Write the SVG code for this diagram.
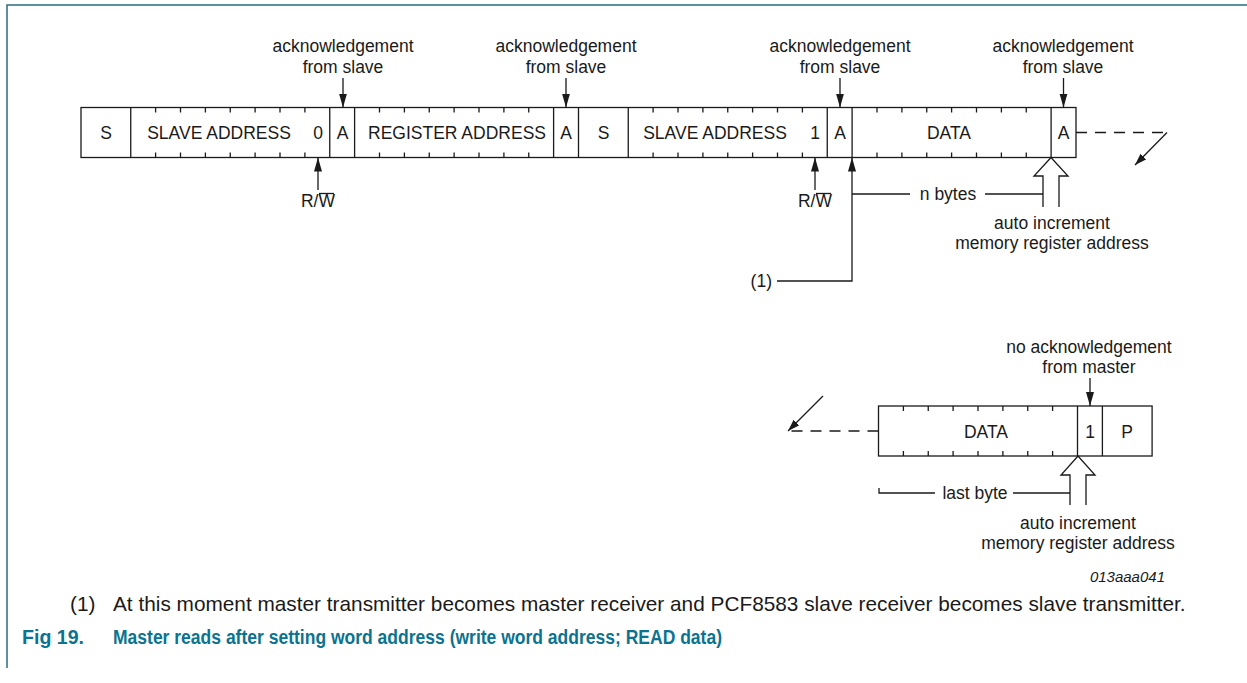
<svg xmlns="http://www.w3.org/2000/svg" width="1247" height="683" viewBox="0 0 1247 683">
<style>
.box{fill:none;stroke:#1a1a1a;stroke-width:1.3}
.ln{fill:none;stroke:#1a1a1a;stroke-width:1.3}
.dash{stroke-dasharray:11 8}
.hollow{fill:#fff;stroke:#1a1a1a;stroke-width:1.3}
text{font-family:"Liberation Sans",Arial,Helvetica,sans-serif;fill:#1a1a1a}
.lbl{font-size:17.5px}
.mid{text-anchor:middle}
.cap{font-size:20.8px}
.fig{font-size:19.5px;font-weight:bold;fill:#0b7390}
.code{font-size:15px;font-style:italic;text-anchor:end}
.frame{stroke:#2a6e80;stroke-width:1.5;fill:none}
</style>
<defs>
<marker id="ah" markerUnits="userSpaceOnUse" markerWidth="15" markerHeight="10" refX="14" refY="4" orient="auto">
<path d="M0,0 L14,4 L0,8 z" fill="#1a1a1a"/>
</marker>
<marker id="ah2" markerUnits="userSpaceOnUse" markerWidth="13" markerHeight="10" refX="12" refY="4" orient="auto">
<path d="M0,0 L12,4 L0,8 z" fill="#1a1a1a"/>
</marker>
</defs>

<g id="frame">
<path class="frame" d="M7,668 V5 H1247"/>
</g>

<g id="top-frame">
<rect class="box" x="81" y="107.5" width="995" height="50"/>
<path class="ln" d="M130.75,107.5V157.5 M329.75,107.5V157.5 M354.6,107.5V157.5 M553.6,107.5V157.5 M578.5,107.5V157.5 M628.25,107.5V157.5 M827.25,107.5V157.5 M852.1,107.5V157.5 M1051.1,107.5V157.5"/>
<path class="ln" d="M155.6,107.5v5 M180.5,107.5v5 M205.4,107.5v5 M230.25,107.5v5 M255.1,107.5v5 M280,107.5v5 M304.9,107.5v5
M155.6,157.5v-5 M180.5,157.5v-5 M205.4,157.5v-5 M230.25,157.5v-5 M255.1,157.5v-5 M280,157.5v-5 M304.9,157.5v-5
M379.5,107.5v5 M404.4,107.5v5 M429.25,107.5v5 M454.1,107.5v5 M479,107.5v5 M503.9,107.5v5 M528.75,107.5v5
M379.5,157.5v-5 M404.4,157.5v-5 M429.25,157.5v-5 M454.1,157.5v-5 M479,157.5v-5 M503.9,157.5v-5 M528.75,157.5v-5
M653.1,107.5v5 M678,107.5v5 M702.9,107.5v5 M727.75,107.5v5 M752.6,107.5v5 M777.5,107.5v5 M802.4,107.5v5
M653.1,157.5v-5 M678,157.5v-5 M702.9,157.5v-5 M727.75,157.5v-5 M752.6,157.5v-5 M777.5,157.5v-5 M802.4,157.5v-5
M877,107.5v5 M901.9,107.5v5 M926.75,107.5v5 M951.6,107.5v5 M976.5,107.5v5 M1001.4,107.5v5 M1026.25,107.5v5
M877,157.5v-5 M901.9,157.5v-5 M926.75,157.5v-5 M951.6,157.5v-5 M976.5,157.5v-5 M1001.4,157.5v-5 M1026.25,157.5v-5"/>
</g>

<g id="cell-s1"><text class="lbl mid" x="106" y="139">S</text></g>
<g id="cell-slave-address-1"><text class="lbl mid" x="219" y="139">SLAVE ADDRESS</text><text class="lbl mid" x="318" y="139">0</text></g>
<g id="cell-a1"><text class="lbl mid" x="342.5" y="139">A</text></g>
<g id="cell-register-address"><text class="lbl mid" x="457" y="139">REGISTER ADDRESS</text></g>
<g id="cell-a2"><text class="lbl mid" x="566" y="139">A</text></g>
<g id="cell-s2"><text class="lbl mid" x="603.5" y="139">S</text></g>
<g id="cell-slave-address-2"><text class="lbl mid" x="715" y="139">SLAVE ADDRESS</text><text class="lbl mid" x="815" y="139">1</text></g>
<g id="cell-a3"><text class="lbl mid" x="840" y="139">A</text></g>
<g id="cell-data-1"><text class="lbl mid" x="949" y="139">DATA</text></g>
<g id="cell-a4"><text class="lbl mid" x="1063.5" y="139">A</text></g>

<g id="ack-labels">
<text class="lbl mid" x="343" y="52">acknowledgement</text><text class="lbl mid" x="343" y="73">from slave</text>
<text class="lbl mid" x="566" y="52">acknowledgement</text><text class="lbl mid" x="566" y="73">from slave</text>
<text class="lbl mid" x="840" y="52">acknowledgement</text><text class="lbl mid" x="840" y="73">from slave</text>
<text class="lbl mid" x="1063" y="52">acknowledgement</text><text class="lbl mid" x="1063" y="73">from slave</text>
</g>

<g id="rw-labels">
<text class="lbl mid" x="318" y="207">R/W</text>
<line class="ln" x1="319" y1="193.5" x2="334" y2="193.5"/>
<text class="lbl mid" x="815" y="207">R/W</text>
<line class="ln" x1="816" y1="193.5" x2="831" y2="193.5"/>
</g>

<g id="nbytes-label"><text class="lbl mid" x="948" y="200">n bytes</text></g>
<g id="note1-label"><text class="lbl" x="772" y="287" text-anchor="end">(1)</text></g>
<g id="auto-inc-1">
<polyline class="hollow" points="1043,207 1043,176 1034,176 1051,157.5 1068,176 1059,176 1059,207"/>
<text class="lbl mid" x="1052" y="229">auto increment</text>
<text class="lbl mid" x="1052" y="249">memory register address</text>
</g>

<g id="bottom-frame">
<rect class="box" x="878.5" y="406" width="273.6" height="50"/>
<path class="ln" d="M1077.5,406V456 M1102.4,406V456"/>
<path class="ln" d="M903.4,406v5 M928.25,406v5 M953.1,406v5 M978,406v5 M1002.9,406v5 M1027.75,406v5 M1052.6,406v5
M903.4,456v-5 M928.25,456v-5 M953.1,456v-5 M978,456v-5 M1002.9,456v-5 M1027.75,456v-5 M1052.6,456v-5"/>
</g>
<g id="cell-data-2"><text class="lbl mid" x="986" y="437.5">DATA</text></g>
<g id="cell-1"><text class="lbl mid" x="1090" y="437.5">1</text></g>
<g id="cell-p"><text class="lbl mid" x="1127" y="437.5">P</text></g>
<g id="noack-label">
<text class="lbl mid" x="1089" y="352.5">no acknowledgement</text>
<text class="lbl mid" x="1089" y="372.5">from master</text>
</g>
<g id="lastbyte-label"><text class="lbl mid" x="975" y="499">last byte</text></g>
<g id="auto-inc-2">
<polyline class="hollow" points="1070,505 1070,475 1061,475 1078,456 1095,475 1086,475 1086,505"/>
<text class="lbl mid" x="1078" y="529">auto increment</text>
<text class="lbl mid" x="1078" y="548.5">memory register address</text>
</g>

<g id="connectors">
<line class="ln" x1="343" y1="78" x2="343" y2="107.5" marker-end="url(#ah)"/>
<line class="ln" x1="566" y1="78" x2="566" y2="107.5" marker-end="url(#ah)"/>
<line class="ln" x1="840" y1="78" x2="840" y2="107.5" marker-end="url(#ah)"/>
<line class="ln" x1="1063.5" y1="78" x2="1063.5" y2="107.5" marker-end="url(#ah)"/>
<line class="ln" x1="318" y1="190" x2="318" y2="157.5" marker-end="url(#ah)"/>
<line class="ln" x1="815" y1="190" x2="815" y2="157.5" marker-end="url(#ah)"/>
<path class="ln" d="M777,281 H852 V157.5" marker-end="url(#ah)"/>
<path class="ln" d="M852,194 H910 M985,194 H1043"/>
<path class="ln dash" d="M1076,132.5 H1167"/>
<line class="ln" x1="1167" y1="132.5" x2="1135" y2="165" marker-end="url(#ah2)"/>
<line class="ln" x1="1090" y1="378" x2="1090" y2="406" marker-end="url(#ah)"/>
<path class="ln dash" d="M878.5,431 H790"/>
<line class="ln" x1="823" y1="396" x2="788" y2="431" marker-end="url(#ah2)"/>
<path class="ln" d="M879,488 V493 H935 M1013,493 H1070"/>
</g>

<g id="code"><text class="code" x="1165" y="582">013aaa041</text></g>

<g id="caption">
<text class="cap" x="70" y="611">(1)</text>
<text class="cap" x="113" y="611">At this moment master transmitter becomes master receiver and PCF8583 slave receiver becomes slave transmitter.</text>
<text class="fig" x="22" y="644" textLength="62" lengthAdjust="spacingAndGlyphs">Fig 19.</text>
<text class="fig" x="113" y="644" textLength="609" lengthAdjust="spacingAndGlyphs">Master reads after setting word address (write word address; READ data)</text>
</g>
</svg>
